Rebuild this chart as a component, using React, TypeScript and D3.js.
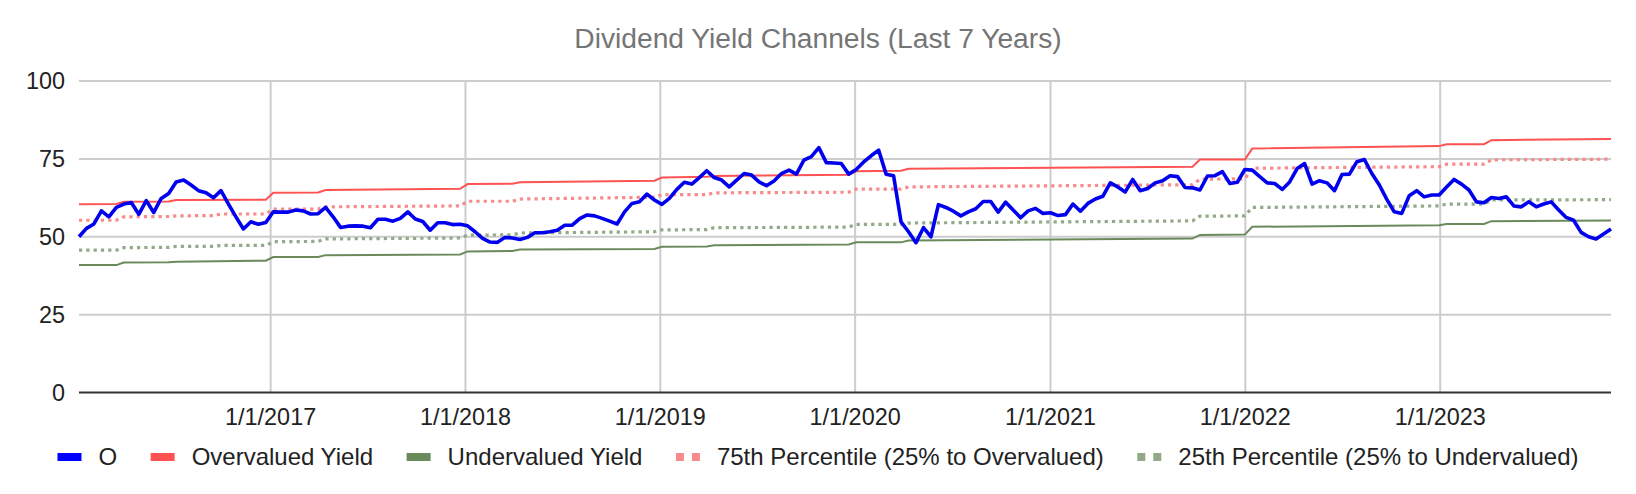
import * as d3 from 'd3';
import { useEffect, useRef } from 'react';

// biweekly closing yields for O, starting 1/8/2016
const START_DATE = '2016-01-08';
const STEP_DAYS = 14;
const yieldValues = [
  50.0, 52.7, 54.1, 58.3, 56.4, 59.4, 60.5, 61.0, 57.2, 61.6, 57.8, 62.3, 63.9, 67.6, 68.2, 66.6,
  64.8, 64.1, 62.5, 64.8, 60.5, 56.4, 52.5, 54.8, 54.0, 54.6, 58.0, 57.9, 57.9, 58.6, 58.3, 57.3,
  57.4, 59.4, 56.4, 53.0, 53.4, 53.5, 53.4, 52.9, 55.6, 55.6, 55.0, 55.9, 58.0, 55.7,
  54.9, 52.1, 54.5, 54.5, 53.9, 54.0, 53.5, 51.6, 49.5, 48.3, 48.2, 49.8, 49.6, 49.1, 49.8, 51.3,
  51.3, 51.6, 52.1, 53.7, 53.7, 55.8, 57.0, 56.7, 55.9, 55.0, 54.1, 58.0, 60.7, 61.2, 63.7, 61.8,
  60.4, 62.3, 65.2, 67.5, 66.9, 69.0, 71.2, 69.0, 68.2, 66.0, 68.2, 70.3, 69.8, 67.6, 66.4, 67.9,
  70.3, 71.4, 70.1, 74.6, 75.7, 78.6,
  73.8, 73.7, 73.5, 70.1, 71.6, 74.0, 76.0, 77.8, 70.1, 69.6, 54.8, 51.6, 48.1, 52.9, 50.0, 60.3,
  59.4, 58.2, 56.7, 58.0, 59.0, 61.3, 61.3, 57.9, 61.1, 58.6, 56.1, 58.3, 59.1, 57.5, 57.7, 56.8,
  57.1, 60.5, 58.2, 60.7, 62.1, 63.0, 67.3, 66.0, 64.4, 68.4, 64.8, 65.5, 67.3, 68.0, 69.6, 69.3,
  65.8, 65.7, 65.0, 69.5, 69.6,
  70.9, 67.1, 67.5, 71.6, 71.4, 69.3, 67.3, 67.1, 65.2, 67.6, 71.9, 73.5, 66.9, 68.0, 67.3, 64.8,
  70.0, 70.1, 74.1, 74.8, 70.3, 66.6, 62.0, 58.0, 57.5, 63.2, 64.8, 62.8, 63.4, 63.4, 66.0, 68.4,
  66.9, 65.0, 61.2, 60.9, 62.6, 62.3, 62.8, 59.9, 59.6, 61.2, 59.6, 60.5, 61.2, 58.6, 56.2, 55.3,
  51.4, 50.0, 49.3, 50.9, 52.5,
];

// channel levels: [date, value] at each change (quarterly resets)
const overvalued: [string, number][] = [
  ['2016-01-08', 60.4], ['2016-03-18', 60.5], ['2016-04-01', 61.2], ['2016-06-24', 61.3],
  ['2016-07-08', 61.8], ['2016-12-23', 61.9], ['2017-01-06', 64.1], ['2017-03-31', 64.2],
  ['2017-04-14', 65.0], ['2017-12-22', 65.4], ['2018-01-05', 66.9], ['2018-03-30', 67.0],
  ['2018-04-13', 67.5], ['2018-12-21', 68.0], ['2019-01-04', 69.0], ['2019-03-29', 69.3],
  ['2019-04-12', 69.5], ['2019-12-20', 69.9], ['2020-01-03', 71.0], ['2020-03-27', 71.2],
  ['2020-04-10', 71.8], ['2021-09-24', 72.5], ['2021-10-08', 74.8], ['2021-12-31', 74.8],
  ['2022-01-14', 78.3], ['2022-12-30', 79.1], ['2023-01-13', 79.7], ['2023-03-24', 79.7],
  ['2023-04-07', 81.0], ['2023-11-17', 81.4],
];
const undervalued: [string, number][] = [
  ['2016-01-08', 40.9], ['2016-03-18', 40.9], ['2016-04-01', 41.7], ['2016-06-24', 41.8],
  ['2016-07-08', 42.0], ['2016-12-23', 42.3], ['2017-01-06', 43.5], ['2017-03-31', 43.5],
  ['2017-04-14', 44.1], ['2017-12-22', 44.3], ['2018-01-05', 45.3], ['2018-03-30', 45.4],
  ['2018-04-13', 45.9], ['2018-12-21', 46.1], ['2019-01-04', 46.8], ['2019-03-29', 46.9],
  ['2019-04-12', 47.3], ['2019-12-20', 47.5], ['2020-01-03', 48.2], ['2020-03-27', 48.2],
  ['2020-04-10', 48.8], ['2021-09-24', 49.4], ['2021-10-08', 50.6], ['2021-12-31', 50.7],
  ['2022-01-14', 53.2], ['2022-12-30', 53.7], ['2023-01-13', 54.1], ['2023-03-24', 54.1],
  ['2023-04-07', 55.0], ['2023-11-17', 55.2],
];
const pct75: [string, number][] = [
  ['2016-01-08', 55.3], ['2016-03-18', 55.3], ['2016-04-01', 56.4], ['2016-06-24', 56.5],
  ['2016-07-08', 56.7], ['2016-09-16', 56.8], ['2016-09-30', 57.3], ['2016-12-23', 57.3],
  ['2017-01-06', 58.9], ['2017-03-31', 58.9], ['2017-04-14', 59.6], ['2017-12-22', 59.9],
  ['2018-01-05', 61.4], ['2018-03-30', 61.4], ['2018-04-13', 62.1], ['2018-12-21', 62.7],
  ['2019-01-04', 63.5], ['2019-03-29', 63.5], ['2019-04-12', 64.1], ['2019-12-20', 64.3],
  ['2020-01-03', 65.3], ['2020-03-27', 65.3], ['2020-04-10', 66.0], ['2021-09-24', 66.7],
  ['2021-10-08', 68.5], ['2021-12-31', 68.6], ['2022-01-14', 72.0], ['2022-12-30', 72.5],
  ['2023-01-13', 73.3], ['2023-03-24', 73.3], ['2023-04-07', 74.7], ['2023-11-17', 74.9],
];
const pct25: [string, number][] = [
  ['2016-01-08', 45.7], ['2016-03-18', 45.7], ['2016-04-01', 46.5], ['2016-06-24', 46.6],
  ['2016-07-08', 46.9], ['2016-09-16', 46.9], ['2016-09-30', 47.2], ['2016-12-23', 47.2],
  ['2017-01-06', 48.4], ['2017-03-31', 48.5], ['2017-04-14', 49.3], ['2017-12-22', 49.6],
  ['2018-01-05', 50.5], ['2018-03-30', 50.6], ['2018-04-13', 51.2], ['2018-12-21', 51.6],
  ['2019-01-04', 52.2], ['2019-03-29', 52.3], ['2019-04-12', 52.9], ['2019-12-20', 53.1],
  ['2020-01-03', 54.0], ['2020-03-27', 54.0], ['2020-04-10', 54.4], ['2021-09-24', 55.1],
  ['2021-10-08', 56.6], ['2021-12-31', 56.7], ['2022-01-14', 59.4], ['2022-12-30', 59.9],
  ['2023-01-13', 60.5], ['2023-03-24', 60.5], ['2023-04-07', 61.8], ['2023-11-17', 61.9],
];

const yTicks = [0, 25, 50, 75, 100];
const xTickDates = ['2017-01-01', '2018-01-01', '2019-01-01', '2020-01-01', '2021-01-01', '2022-01-01', '2023-01-01'];

const TITLE = 'Dividend Yield Channels (Last 7 Years)';
const FONT = '"Liberation Sans", Arial, sans-serif';

export default function App() {
  const svgRef = useRef(null);

  useEffect(() => {
    const svgElement = svgRef.current;
    if (!svgElement) return;
    document.body.style.margin = '0';

    d3.select(svgElement).selectAll('*').remove();

    const width = 1636;
    const height = 494;
    const left = 79;
    const right = 1611;
    const top = 81;
    const bottom = 392.5;

    const parse = d3.timeParse('%Y-%m-%d');
    const start = parse(START_DATE)!;
    const series = yieldValues.map((v, i) => ({ date: d3.timeDay.offset(start, i * STEP_DAYS), value: v }));
    const end = series[series.length - 1].date;

    const x = d3.scaleTime().domain([start, end]).range([left, right]);
    const y = d3.scaleLinear().domain([0, 100]).range([bottom, top]);

    const svg = d3
      .select(svgElement)
      .attr('width', width)
      .attr('height', height)
      .style('display', 'block')
      .style('font-family', FONT);

    svg.append('rect').attr('width', width).attr('height', height).attr('fill', '#fff');

    // title
    svg
      .append('text')
      .attr('x', width / 2)
      .attr('y', 48)
      .attr('text-anchor', 'middle')
      .attr('font-size', 28.2)
      .attr('fill', '#757575')
      .text(TITLE);

    // grid
    svg
      .selectAll('line.hgrid')
      .data(yTicks.filter((t) => t > 0))
      .join('line')
      .attr('x1', left)
      .attr('x2', right)
      .attr('y1', (d) => y(d))
      .attr('y2', (d) => y(d))
      .attr('stroke', '#cccccc')
      .attr('stroke-width', 2);

    const xTicks = xTickDates.map((d) => parse(d)!);
    svg
      .selectAll('line.vgrid')
      .data(xTicks)
      .join('line')
      .attr('x1', (d) => x(d))
      .attr('x2', (d) => x(d))
      .attr('y1', top)
      .attr('y2', bottom)
      .attr('stroke', '#cccccc')
      .attr('stroke-width', 2);

    svg
      .append('line')
      .attr('x1', left)
      .attr('x2', right)
      .attr('y1', bottom)
      .attr('y2', bottom)
      .attr('stroke', '#333')
      .attr('stroke-width', 2);

    // axis labels
    svg
      .selectAll('text.ylab')
      .data(yTicks)
      .join('text')
      .attr('x', 65)
      .attr('y', (d) => y(d) + 8.4)
      .attr('text-anchor', 'end')
      .attr('font-size', 23.4)
      .attr('fill', '#222')
      .text((d) => d);

    const fmt = d3.timeFormat('%-m/%-d/%Y');
    svg
      .selectAll('text.xlab')
      .data(xTicks)
      .join('text')
      .attr('x', (d) => x(d))
      .attr('y', 424.5)
      .attr('text-anchor', 'middle')
      .attr('font-size', 23.4)
      .attr('fill', '#222')
      .text((d) => fmt(d));

    // lines
    const stepLine = d3
      .line<[string, number]>()
      .x((d) => x(parse(d[0])!))
      .y((d) => y(d[1]));

    const channels = [
      { data: overvalued, color: '#ff5252', width: 2, dash: null },
      { data: undervalued, color: '#6a8a5c', width: 2, dash: null },
      { data: pct75, color: '#f78a8a', width: 3.2, dash: '3.2 4.1' },
      { data: pct25, color: '#93a98a', width: 3.2, dash: '3.2 4.1' },
    ];
    channels.forEach((c) => {
      svg
        .append('path')
        .attr('d', stepLine(c.data))
        .attr('fill', 'none')
        .attr('stroke', c.color)
        .attr('stroke-width', c.width)
        .attr('stroke-dasharray', c.dash);
    });

    const line = d3
      .line<{ date: Date; value: number }>()
      .x((d) => x(d.date))
      .y((d) => y(d.value));

    svg
      .append('path')
      .attr('d', line(series))
      .attr('fill', 'none')
      .attr('stroke', '#0000ee')
      .attr('stroke-width', 3.6)
      .attr('stroke-linejoin', 'round');

    // legend
    const legendItems = [
      { label: 'O', color: '#0000ff', dotted: false },
      { label: 'Overvalued Yield', color: '#ff5252', dotted: false },
      { label: 'Undervalued Yield', color: '#6a8a5c', dotted: false },
      { label: '75th Percentile (25% to Overvalued)', color: '#f78a8a', dotted: true },
      { label: '25th Percentile (25% to Undervalued)', color: '#93a98a', dotted: true },
    ];
    const legendY = 457;
    const legend = svg.append('g');
    const groups = legendItems.map((item) => {
      const g = legend.append('g');
      if (item.dotted) {
        g.append('rect').attr('x', 0).attr('y', legendY - 4).attr('width', 8).attr('height', 8).attr('fill', item.color);
        g.append('rect').attr('x', 16).attr('y', legendY - 4).attr('width', 8).attr('height', 8).attr('fill', item.color);
      } else {
        g.append('rect').attr('x', 0).attr('y', legendY - 4).attr('width', 24).attr('height', 8).attr('fill', item.color);
      }
      const t = g
        .append('text')
        .attr('x', 41)
        .attr('y', legendY + 7.5)
        .attr('font-size', 24)
        .attr('fill', '#222')
        .text(item.label);
      const w = (t.node() as SVGTextElement).getComputedTextLength();
      return { g, w: 41 + w };
    });
    const gap = 33.5;
    const total = d3.sum(groups, (d) => d.w) + gap * (groups.length - 1);
    let cx = (width - total) / 2;
    groups.forEach((d) => {
      d.g.attr('transform', `translate(${cx},0)`);
      cx += d.w + gap;
    });
  }, []);

  return <svg ref={svgRef} />;
}
